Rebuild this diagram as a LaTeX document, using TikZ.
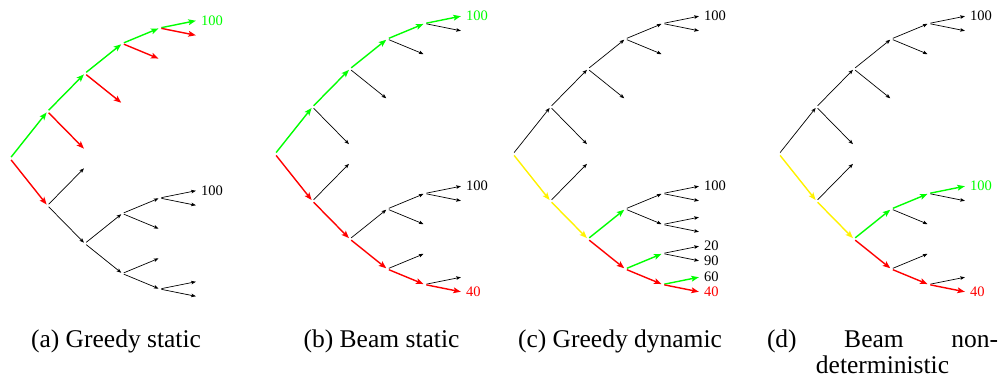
\documentclass[tikz,border=0pt]{standalone}
\usepackage{fontspec}
\setmainfont{Liberation Serif}
\usetikzlibrary{arrows.meta,calc}

\tikzset{
  edgebase/.style={shorten <=1.8pt, shorten >=1.2pt},
  eb/.style={edgebase, draw=black, line width=0.7pt,
    -{Stealth[length=4.6pt,width=3.6pt,inset=1pt]}},
  edgecol/.style={edgebase, line width=1.4pt,
    -{Stealth[length=7.5pt,width=5.8pt,inset=1.6pt]}},
  eg/.style={edgecol, draw=green},
  er/.style={edgecol, draw=red},
  ey/.style={edgecol, draw=yellow},
  leaflabel/.style={anchor=west, inner sep=0pt, xshift=4pt,
    font=\fontsize{14.5}{16}\selectfont},
  captext/.style={anchor=base, inner sep=0pt,
    font=\fontsize{25.5}{26}\selectfont},
}

% coordinates of all tree positions for one panel: #1 prefix, #2 x, #3 y of root
\newcommand\mktree[3]{%
  \coordinate (#1r) at (#2,#3);
  \foreach \nm/\lv/\dy in {A/1/-47, B/1/47,
      Au/2/-85, Ad/2/-9, Bu/2/9, Bd/2/85,
      Auu/3/-115, Aud/3/-55, Bdu/3/55, Bdd/3/115,
      Auuu/4/-130.5, Auud/4/-99.5, Bduu/4/39.5, Bdud/4/70.5, Bddu/4/99.5, Bddd/4/130.5,
      Auuuu/5/-138, Auuud/5/-123, Bduuu/5/32, Bduud/5/47, Bdudu/5/63, Bdudd/5/78,
      Bdduu/5/92, Bddud/5/107, Bdddu/5/123, Bdddd/5/138}{
    \coordinate (#1\nm) at ($(#1r)+(\lv*37.4,\dy)$);
  }%
}

\begin{document}
\begin{tikzpicture}[x=1pt,y=-1pt]
\useasboundingbox (0,0) rectangle (1005,378);

% ---------------- (a) Greedy static
\mktree{a}{10}{158.5}
\draw[eg] (ar) -- (aA);
\draw[er] (ar) -- (aB);
\draw[eg] (aA) -- (aAu);
\draw[er] (aA) -- (aAd);
\draw[eg] (aAu) -- (aAuu);
\draw[er] (aAu) -- (aAud);
\draw[eg] (aAuu) -- (aAuuu);
\draw[er] (aAuu) -- (aAuud);
\draw[eg] (aAuuu) -- (aAuuuu);
\draw[er] (aAuuu) -- (aAuuud);
\draw[eb] (aB) -- (aBu);
\draw[eb] (aB) -- (aBd);
\draw[eb] (aBd) -- (aBdu);
\draw[eb] (aBd) -- (aBdd);
\draw[eb] (aBdu) -- (aBduu);
\draw[eb] (aBdu) -- (aBdud);
\draw[eb] (aBduu) -- (aBduuu);
\draw[eb] (aBduu) -- (aBduud);
\draw[eb] (aBdd) -- (aBddu);
\draw[eb] (aBdd) -- (aBddd);
\draw[eb] (aBddd) -- (aBdddu);
\draw[eb] (aBddd) -- (aBdddd);
\node[leaflabel, text=green] (alab1) at (aAuuuu) {100};
\node[leaflabel] (alab2) at (aBduuu) {100};

% ---------------- (b) Beam static
\mktree{b}{275}{154}
\draw[eg] (br) -- (bA);
\draw[er] (br) -- (bB);
\draw[eg] (bA) -- (bAu);
\draw[eb] (bA) -- (bAd);
\draw[eg] (bAu) -- (bAuu);
\draw[eb] (bAu) -- (bAud);
\draw[eg] (bAuu) -- (bAuuu);
\draw[eb] (bAuu) -- (bAuud);
\draw[eg] (bAuuu) -- (bAuuuu);
\draw[eb] (bAuuu) -- (bAuuud);
\draw[eb] (bB) -- (bBu);
\draw[er] (bB) -- (bBd);
\draw[eb] (bBd) -- (bBdu);
\draw[er] (bBd) -- (bBdd);
\draw[eb] (bBdu) -- (bBduu);
\draw[eb] (bBdu) -- (bBdud);
\draw[eb] (bBduu) -- (bBduuu);
\draw[eb] (bBduu) -- (bBduud);
\draw[eb] (bBdd) -- (bBddu);
\draw[er] (bBdd) -- (bBddd);
\draw[eb] (bBddd) -- (bBdddu);
\draw[er] (bBddd) -- (bBdddd);
\node[leaflabel, text=green] (blab1) at (bAuuuu) {100};
\node[leaflabel] (blab2) at (bBduuu) {100};
\node[leaflabel, text=red] (blab3) at (bBdddd) {40};

% ---------------- (c) Greedy dynamic
\mktree{c}{513}{154}
\draw[eb] (cr) -- (cA);
\draw[ey] (cr) -- (cB);
\draw[eb] (cA) -- (cAu);
\draw[eb] (cA) -- (cAd);
\draw[eb] (cAu) -- (cAuu);
\draw[eb] (cAu) -- (cAud);
\draw[eb] (cAuu) -- (cAuuu);
\draw[eb] (cAuu) -- (cAuud);
\draw[eb] (cAuuu) -- (cAuuuu);
\draw[eb] (cAuuu) -- (cAuuud);
\draw[eb] (cB) -- (cBu);
\draw[ey] (cB) -- (cBd);
\draw[eg] (cBd) -- (cBdu);
\draw[er] (cBd) -- (cBdd);
\draw[eb] (cBdu) -- (cBduu);
\draw[eb] (cBdu) -- (cBdud);
\draw[eb] (cBduu) -- (cBduuu);
\draw[eb] (cBduu) -- (cBduud);
\draw[eb] (cBdud) -- (cBdudu);
\draw[eb] (cBdud) -- (cBdudd);
\draw[eg] (cBdd) -- (cBddu);
\draw[er] (cBdd) -- (cBddd);
\draw[eb] (cBddu) -- (cBdduu);
\draw[eb] (cBddu) -- (cBddud);
\draw[eg] (cBddd) -- (cBdddu);
\draw[er] (cBddd) -- (cBdddd);
\node[leaflabel] (clab1) at (cAuuuu) {100};
\node[leaflabel] (clab2) at (cBduuu) {100};
\node[leaflabel] (clab3) at (cBdduu) {20};
\node[leaflabel] (clab4) at (cBddud) {90};
\node[leaflabel] (clab5) at (cBdddu) {60};
\node[leaflabel, text=red] (clab6) at (cBdddd) {40};

% ---------------- (d) Beam non-deterministic
\mktree{d}{779}{154}
\draw[eb] (dr) -- (dA);
\draw[ey] (dr) -- (dB);
\draw[eb] (dA) -- (dAu);
\draw[eb] (dA) -- (dAd);
\draw[eb] (dAu) -- (dAuu);
\draw[eb] (dAu) -- (dAud);
\draw[eb] (dAuu) -- (dAuuu);
\draw[eb] (dAuu) -- (dAuud);
\draw[eb] (dAuuu) -- (dAuuuu);
\draw[eb] (dAuuu) -- (dAuuud);
\draw[eb] (dB) -- (dBu);
\draw[ey] (dB) -- (dBd);
\draw[eg] (dBd) -- (dBdu);
\draw[er] (dBd) -- (dBdd);
\draw[eg] (dBdu) -- (dBduu);
\draw[eb] (dBdu) -- (dBdud);
\draw[eg] (dBduu) -- (dBduuu);
\draw[eb] (dBduu) -- (dBduud);
\draw[eb] (dBdd) -- (dBddu);
\draw[er] (dBdd) -- (dBddd);
\draw[eb] (dBddd) -- (dBdddu);
\draw[er] (dBddd) -- (dBdddd);
\node[leaflabel] (dlab1) at (dAuuuu) {100};
\node[leaflabel, text=green] (dlab2) at (dBduuu) {100};
\node[leaflabel, text=red] (dlab3) at (dBdddd) {40};

% ---------------- captions
\node[captext] (capa) at (116,347) {(a) Greedy static};
\node[captext] (capb) at (381.5,347) {(b) Beam static};
\node[captext] (capc) at (620,347) {(c) Greedy dynamic};
\node[captext, align=center] (capd) at (882.5,373)
  {\makebox[231pt][s]{(d) Beam non-}\\deterministic};
\end{tikzpicture}
\end{document}
